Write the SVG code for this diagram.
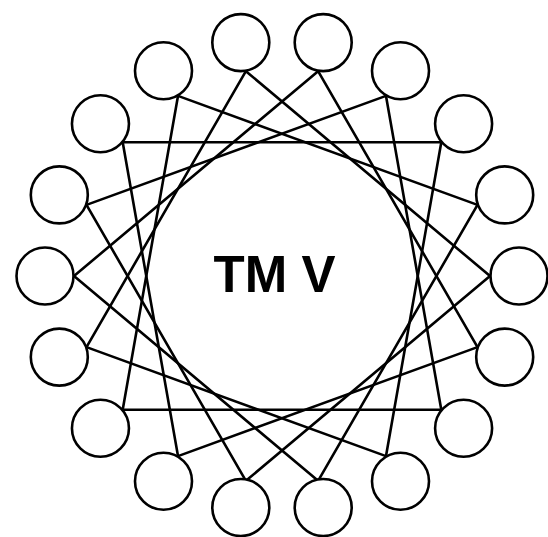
<svg xmlns="http://www.w3.org/2000/svg" width="548" height="537" viewBox="0 0 548 537">
<style>
.n{fill:#fff;stroke:#000;stroke-width:2.6}
.c line{stroke:#000;stroke-width:2.6;stroke-linecap:round}
.t{font-family:"Liberation Sans",Arial,sans-serif;font-weight:bold;font-size:51px;fill:#000}
</style>
<rect width="548" height="537" fill="#fff"/>
<g id="connectors" class="c">
<line x1="318.1" y1="71.2" x2="477.5" y2="347.1"/>
<line x1="386" y1="95.9" x2="441.3" y2="409.7"/>
<line x1="441.3" y1="142.3" x2="386" y2="456.1"/>
<line x1="477.5" y1="204.9" x2="318.1" y2="480.8"/>
<line x1="490" y1="276" x2="245.9" y2="480.8"/>
<line x1="477.5" y1="347.1" x2="178" y2="456.1"/>
<line x1="441.3" y1="409.7" x2="122.7" y2="409.7"/>
<line x1="386" y1="456.1" x2="86.5" y2="347.1"/>
<line x1="318.1" y1="480.8" x2="74" y2="276"/>
<line x1="245.9" y1="480.8" x2="86.5" y2="204.9"/>
<line x1="178" y1="456.1" x2="122.7" y2="142.3"/>
<line x1="122.7" y1="409.7" x2="178" y2="95.9"/>
<line x1="86.5" y1="347.1" x2="245.9" y2="71.2"/>
<line x1="74" y1="276" x2="318.1" y2="71.2"/>
<line x1="86.5" y1="204.9" x2="386" y2="95.9"/>
<line x1="122.7" y1="142.3" x2="441.3" y2="142.3"/>
<line x1="178" y1="95.9" x2="477.5" y2="204.9"/>
<line x1="245.9" y1="71.2" x2="490" y2="276"/>
</g>
<g id="n0"><circle class="n" cx="323.2" cy="42.6" r="28.5"/></g>
<g id="n1"><circle class="n" cx="400.5" cy="70.75" r="28.5"/></g>
<g id="n2"><circle class="n" cx="463.6" cy="123.7" r="28.5"/></g>
<g id="n3"><circle class="n" cx="504.7" cy="194.9" r="28.5"/></g>
<g id="n4"><circle class="n" cx="519" cy="276" r="28.5"/></g>
<g id="n5"><circle class="n" cx="504.7" cy="357.1" r="28.5"/></g>
<g id="n6"><circle class="n" cx="463.6" cy="428.3" r="28.5"/></g>
<g id="n7"><circle class="n" cx="400.5" cy="481.25" r="28.5"/></g>
<g id="n8"><circle class="n" cx="323.2" cy="507.5" r="28.5"/></g>
<g id="n9"><circle class="n" cx="240.8" cy="507.5" r="28.5"/></g>
<g id="n10"><circle class="n" cx="163.5" cy="481.25" r="28.5"/></g>
<g id="n11"><circle class="n" cx="100.45" cy="428.3" r="28.5"/></g>
<g id="n12"><circle class="n" cx="59.3" cy="357.1" r="28.5"/></g>
<g id="n13"><circle class="n" cx="45" cy="276" r="28.5"/></g>
<g id="n14"><circle class="n" cx="59.3" cy="194.9" r="28.5"/></g>
<g id="n15"><circle class="n" cx="100.45" cy="123.7" r="28.5"/></g>
<g id="n16"><circle class="n" cx="163.5" cy="70.75" r="28.5"/></g>
<g id="n17"><circle class="n" cx="240.8" cy="42.6" r="28.5"/></g>
<g id="label"><text class="t" x="274.5" y="292" text-anchor="middle">TM V</text></g>
</svg>
